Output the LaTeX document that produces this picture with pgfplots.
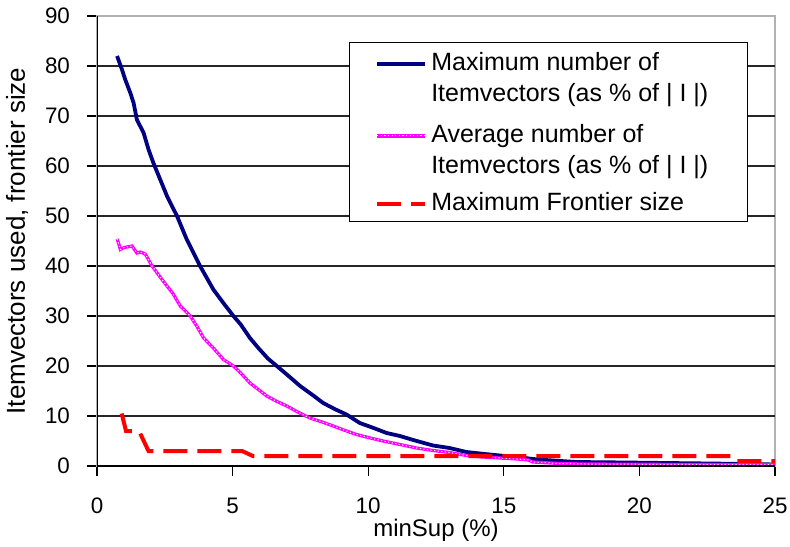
\documentclass[border=0pt]{standalone}
\usepackage{pgfplots}
\pgfplotsset{compat=1.18}
\usepackage{fontspec}
\setmainfont{Liberation Sans}

\definecolor{navyline}{RGB}{0,0,128}
\definecolor{pinkline}{RGB}{255,0,255}
\definecolor{redline}{RGB}{255,0,0}

\begin{document}
\begin{tikzpicture}
\begin{axis}[
  scale only axis, width=339pt, height=225pt,
  xmin=0, xmax=25, ymin=0, ymax=90,
  xtick={0,5,...,25}, ytick={0,10,...,90},
  xtick pos=bottom, ytick pos=left,
  tick align=outside, major tick length=5pt,
  tick style={black, line width=0.6pt},
  axis line style={draw=black!30, line width=0.6pt},
  extra y ticks={10,20,...,80}, extra y tick labels={},
  extra y tick style={grid=major, major tick length=0pt},
  grid style={black!85, line width=0.7pt},
  /pgf/number format/assume math mode=true,
  tick label style={font=\fontsize{11.2}{13}\selectfont},
  xticklabel style={anchor=north, yshift=-7.3pt},
  yticklabel style={anchor=east, xshift=-5pt},
  xlabel={minSup (\%)}, ylabel={Itemvectors used, frontier size},
  every axis x label/.style={at={(axis description cs:0.5,0)}, yshift=-32pt,
    anchor=center, font=\fontsize{12}{14}\selectfont},
  every axis y label/.style={at={(axis description cs:0,0.5)}, xshift=-40pt,
    rotate=90, anchor=center, font=\fontsize{13}{15}\selectfont},
  legend style={at={(axis description cs:0.960,0.942)}, anchor=north east,
    draw=black, line width=0.6pt, fill=white, inner xsep=13pt, inner ysep=1pt,
    row sep=1pt,
    font=\fontsize{12.5}{15.5}\selectfont,
    nodes={text depth=, inner sep=2pt},
    cells={anchor=base west}},
  legend image code/.code={\draw[#1, yshift=0.32em] (0pt,0pt) -- (24pt,0pt);},
]
\addplot[navyline, line width=1.9pt] coordinates {
(0.74,82.0) (0.92,79.3) (1.04,77.3) (1.23,74.6) (1.35,72.6) (1.47,69.3)
(1.59,68.0) (1.72,66.6) (1.90,63.3) (2.08,60.6) (2.33,57.3) (2.58,54.0)
(2.95,50.0) (3.31,45.3) (3.80,40.0) (4.29,35.3) (4.66,32.6) (5.03,30.0)
(5.30,28.3) (5.64,25.6) (5.95,23.6) (6.30,21.5) (6.63,20.0) (7.00,18.3)
(7.49,16.0) (8.00,14.0) (8.34,12.6) (8.80,11.3) (9.20,10.3) (9.69,8.6)
(10.20,7.6) (10.68,6.6) (11.17,6.0) (11.66,5.2) (12.39,4.1) (13.00,3.6)
(13.62,2.8) (14.30,2.4) (14.85,2.1) (15.50,1.8) (16.07,1.4) (16.80,1.1)
(17.67,0.8) (19.50,0.7) (21.00,0.6) (22.60,0.5) (24.00,0.4) (25.00,0.3)
};
\addlegendentry{\begin{tabular}[t]{@{}p{143pt}@{}}Maximum number of\\Itemvectors (as \% of | I |)\end{tabular}}
\addplot[pinkline, line width=1.6pt,
  postaction={draw=white, line width=0.5pt, dash pattern=on 0.6pt off 1.2pt}] coordinates {
(0.74,45.4) (0.80,44.5) (0.86,43.3) (1.00,43.7) (1.29,44.0) (1.47,42.6)
(1.60,42.8) (1.78,42.4) (2.03,40.0) (2.30,38.0) (2.58,36.0) (2.80,34.5)
(3.07,32.0) (3.44,30.0) (3.70,27.8) (3.93,25.6) (4.29,23.6) (4.66,21.3)
(5.03,20.0) (5.30,18.6) (5.64,16.6) (5.95,15.3) (6.26,14.0) (6.60,13.0)
(7.00,12.0) (7.40,10.8) (7.85,9.6) (8.30,8.8) (8.71,8.0) (9.10,7.2)
(9.57,6.3) (10.00,5.7) (10.55,5.0) (11.17,4.3) (11.78,3.6) (12.39,3.1)
(13.00,2.7) (13.62,2.1) (14.20,1.8) (14.85,1.6) (15.50,1.4) (15.90,1.2)
(16.07,0.8) (17.05,0.5) (18.00,0.4) (20.00,0.35) (22.00,0.3) (25.00,0.25)
};
\addlegendentry{\begin{tabular}[t]{@{}p{143pt}@{}}Average number of\\Itemvectors (as \% of | I |)\end{tabular}}
\addplot[redline, line width=2pt, dash pattern=on 12pt off 5pt] coordinates {
(0.91,10.5) (1.07,7.0) (1.55,7.0) (1.90,3.0) (5.35,3.0) (5.75,2.0)
(23.40,2.0) (23.50,1.0) (25.00,1.0)
};
\addlegendentry{Maximum Frontier size\rule[-2.5pt]{0pt}{2.5pt}}
\draw[black, line width=0.8pt] (rel axis cs:0,1) -- (rel axis cs:0,0) -- (rel axis cs:1,0);
\end{axis}
\pgfresetboundingbox
\path (current axis.south west) ++(-48.5pt,-40pt) rectangle (current axis.north east);
\path (current axis.north east) ++(7.5pt,8pt);
\end{tikzpicture}
\end{document}
